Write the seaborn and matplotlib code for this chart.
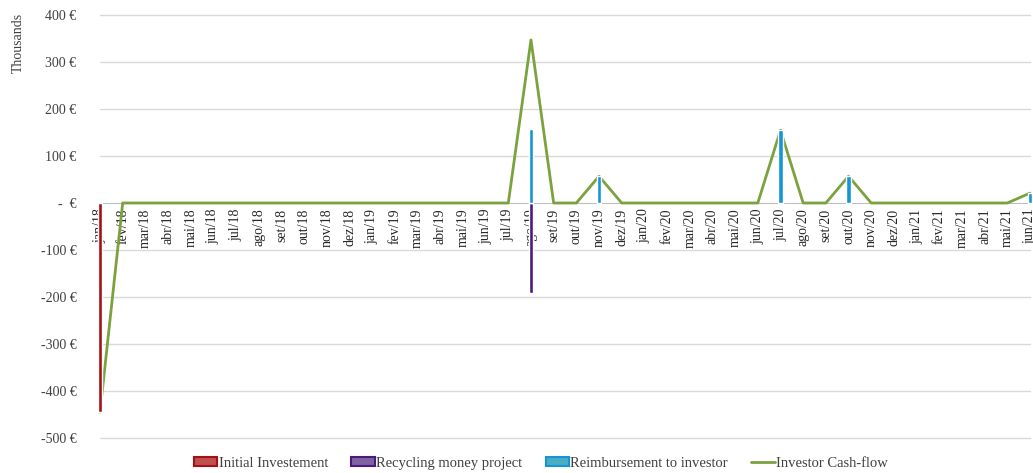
import matplotlib
matplotlib.use("Agg")
import matplotlib.pyplot as plt
import seaborn as sns
import pandas as pd
import numpy as np
from matplotlib.patches import Patch
from matplotlib.lines import Line2D

months = ["jan/18","fev/18","mar/18","abr/18","mai/18","jun/18","jul/18","ago/18","set/18","out/18","nov/18","dez/18",
          "jan/19","fev/19","mar/19","abr/19","mai/19","jun/19","jul/19","ago/19","set/19","out/19","nov/19","dez/19",
          "jan/20","fev/20","mar/20","abr/20","mai/20","jun/20","jul/20","ago/20","set/20","out/20","nov/20","dez/20",
          "jan/21","fev/21","mar/21","abr/21","mai/21","jun/21"]

initial_month = ["jan/18"]
initial_value = [-445]
recycling_month = ["ago/19"]
recycling_value = [-191]
reimb_months = ["ago/19", "nov/19", "jul/20", "out/20", "jun/21"]
reimb_values = [157, 57, 155, 57, 21]
cashflow_nonzero_months = ["jan/18", "ago/19", "nov/19", "jul/20", "out/20", "jun/21"]
cashflow_nonzero_values = [-445, 347, 57, 155, 57, 21]

yticks = [400, 300, 200, 100, 0, -100, -200, -300, -400, -500]
ytick_labels = ["400 €", "300 €", "200 €", "100 €", "-  €", "-100 €", "-200 €", "-300 €", "-400 €", "-500 €"]

series_names = ["Initial Investement", "Recycling money project", "Reimbursement to investor", "Investor Cash-flow"]
bar_colors = {"Initial Investement": "#A50F15", "Recycling money project": "#4B1A80",
              "Reimbursement to investor": "#1496D4"}
legend_fill = {"Initial Investement": "#C0504D", "Recycling money project": "#8064A2",
               "Reimbursement to investor": "#4BACC6"}
line_color = "#7AA23E"

sns.set_style("white")
plt.rcParams['font.family'] = ['Liberation Serif', 'DejaVu Serif']

rows = []
for m, v in zip(initial_month, initial_value):
    rows.append((m, v, series_names[0]))
for m, v in zip(recycling_month, recycling_value):
    rows.append((m, v, series_names[1]))
for m, v in zip(reimb_months, reimb_values):
    rows.append((m, v, series_names[2]))
bars = pd.DataFrame(rows, columns=["month", "value", "series"])

cf = dict(zip(cashflow_nonzero_months, cashflow_nonzero_values))
line_df = pd.DataFrame({"idx": np.arange(len(months)), "value": [cf.get(m, 0) for m in months]})

fig = plt.figure(figsize=(10.33, 4.73), dpi=100)
ax = fig.add_axes([100/1033, 1-438/473, 930/1033, 423/473])

for y in yticks:
    if y != 0:
        ax.axhline(y, color="#D9D9D9", lw=1, zorder=0)

sns.lineplot(data=line_df, x="idx", y="value", color=line_color, lw=2, ax=ax, zorder=3, legend=False)
sns.barplot(data=bars, x="month", y="value", hue="series", order=months, dodge=False, width=0.2,
            palette=bar_colors, ax=ax, legend=False, zorder=4, saturation=1)
for p in ax.patches:
    p.set_clip_on(False)
for l in ax.lines:
    l.set_clip_on(False)

ax.set_xlim(0, len(months) - 1)
ax.set_ylim(-500, 400)
ax.set_yticks(yticks)
ax.set_yticklabels(ytick_labels, fontsize=10, color="#404040")
ax.tick_params(axis="y", length=0, pad=17)

ax.set_xticks(np.arange(len(months)))
ax.set_xticklabels(months, fontsize=10.5, color="#404040")
ax.tick_params(axis="x", length=4, color="#BFBFBF", width=0.8, pad=0, direction="out", labelrotation=90)
for t in ax.get_xticklabels():
    t.set_rotation(90)
    t.set_va("top")
    t.set_ha("center")

for s in ["top", "right", "left"]:
    ax.spines[s].set_visible(False)
ax.spines["bottom"].set_position(("data", 0))
ax.spines["bottom"].set_color("#BFBFBF")
ax.spines["bottom"].set_zorder(1)
ax.set_xlabel("")
ax.set_ylabel("")

fig.text(18/1033, 1-13/473, "Thousands", rotation=90, va="top", ha="center", fontsize=10, color="#404040")

handles = [Patch(facecolor=legend_fill[n], edgecolor=bar_colors[n], lw=1.5) for n in series_names[:3]]
handles.append(Line2D([0], [0], color=line_color, lw=2))
fig.legend(handles, series_names, loc="center", bbox_to_anchor=(541/1033, 1-463/473), ncol=4, frameon=False,
           fontsize=10.5, handlelength=1.6, handleheight=0.6, handletextpad=0.1, columnspacing=1.6,
           labelcolor="#404040")

fig.savefig("out.png", dpi=100)
